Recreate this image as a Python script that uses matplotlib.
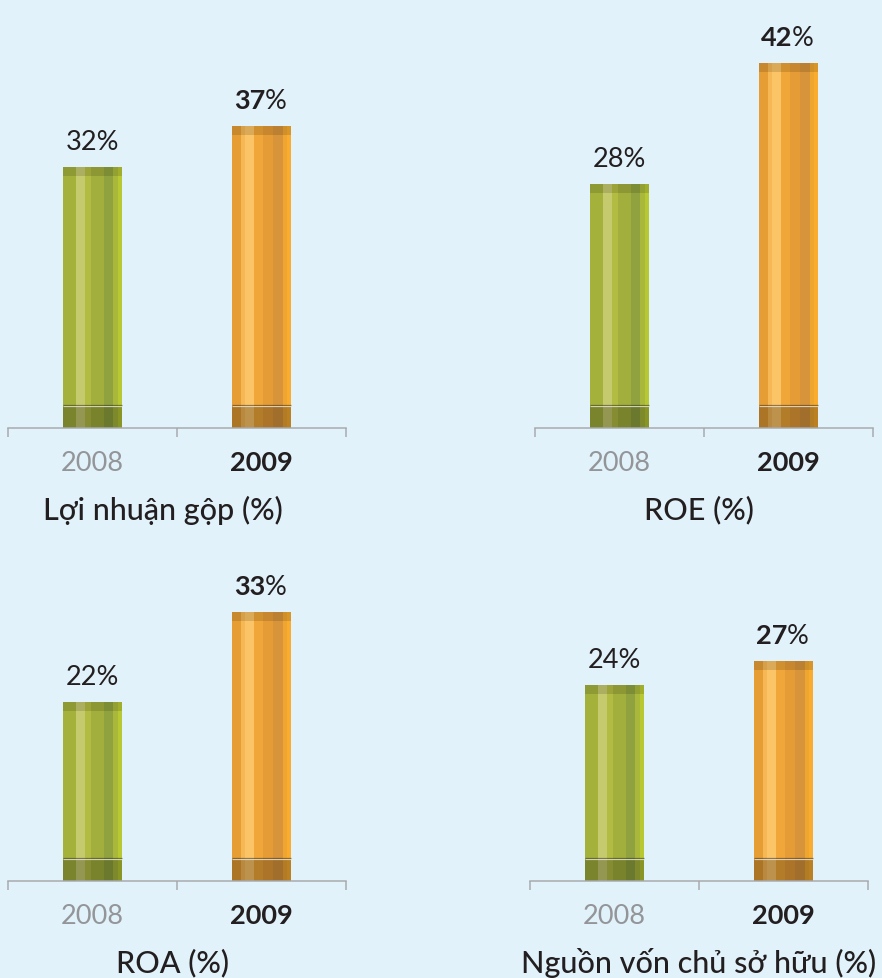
import matplotlib
matplotlib.use('Agg')
import matplotlib.pyplot as plt

# Données
years = ['2008', '2009']
titles = ['Lợi nhuận gộp (%)', 'ROE (%)', 'ROA (%)', 'Nguồn vốn chủ sở hữu (%)']
gross_margin = [32, 37]
roe = [28, 42]
roa = [22, 33]
equity_ratio = [24, 27]

series = [gross_margin, roe, roa, equity_ratio]

# Couleurs
bg = '#e1f2fa'
dark = '#231f20'
grey = '#939598'
axis_col = '#a7a9ac'

green_stripes = [(0.00, 0.23, '#a4b13b'), (0.23, 0.38, '#c6ca6e'), (0.38, 0.47, '#b3bc42'),
                 (0.47, 0.70, '#a2af3c'), (0.70, 0.85, '#8fa23f'), (0.85, 0.93, '#a9b83a'),
                 (0.93, 1.00, '#b8c832')]
orange_stripes = [(0.00, 0.15, '#e69d34'), (0.15, 0.23, '#f6b755'), (0.23, 0.38, '#fbc466'),
                  (0.38, 0.53, '#f0a638'), (0.53, 0.70, '#e69c36'), (0.70, 0.86, '#d8943a'),
                  (0.86, 0.93, '#eea631'), (0.93, 1.00, '#f9ac2e')]
stripes = [green_stripes, orange_stripes]

plt.rcParams['font.family'] = ['Lato', 'Noto Sans', 'DejaVu Sans']

W, H = 882, 979
fig = plt.figure(figsize=(W / 100, H / 100), dpi=100, facecolor=bg)

# boîtes des axes en pixels: gauche, haut, droite, bas ; échelle px par %
boxes = [(8, 20, 346, 429), (535, 20, 873, 429), (8, 474, 346, 882), (530, 474, 868, 882)]
scales = [8.15, 8.70, 8.15, 8.15]
title_dx = [-14, -5, -4, 0]  # décalage horizontal des titres (px)

bar_w = 0.355
px = 0.72  # 1 px en points

for vals, title, (l, t, r, b), sc, tdx in zip(series, titles, boxes, scales, title_dx):
    ax = fig.add_axes([l / W, 1 - b / H, (r - l) / W, (b - t) / H])
    ax.set_facecolor('none')
    ax.set_xlim(-0.5, 1.5)
    ax.set_ylim(0, (b - t) / sc)

    top_band = 9 / sc
    bot_band = 22 / sc

    for i, v in enumerate(vals):
        left = i - bar_w / 2
        for f0, f1, c in stripes[i]:
            ax.bar(left + f0 * bar_w, v, width=(f1 - f0) * bar_w, align='edge', color=c, linewidth=0)
        ax.bar(i, top_band, bottom=v - top_band, width=bar_w, color='black', alpha=0.13, linewidth=0)
        ax.bar(i, bot_band, width=bar_w, color='black', alpha=0.25, linewidth=0)
        ax.hlines(bot_band + 1.5 / sc, left, left + bar_w, color='black', alpha=0.45, lw=1.2 * px)
        ax.hlines(bot_band + 0.2 / sc, left, left + bar_w, color='#ece8d8', alpha=0.8, lw=1.2 * px)

        if i == 0:
            ax.annotate(f'{v}%', (i, v), xytext=(0, 18 * px), textcoords='offset points',
                        ha='center', va='baseline', fontsize=19.5, color=dark)
        else:
            ax.annotate(f'{v}', (i, v), xytext=(4 * px, 18 * px), textcoords='offset points',
                        ha='right', va='baseline', fontsize=19.5, color=dark, fontweight='bold')
            ax.annotate('%', (i, v), xytext=(3 * px, 18 * px), textcoords='offset points',
                        ha='left', va='baseline', fontsize=19.5, color=dark)

    # axe
    for s in ['top', 'left', 'right']:
        ax.spines[s].set_visible(False)
    ax.spines['bottom'].set_color(axis_col)
    ax.spines['bottom'].set_linewidth(1.5 * px)
    ax.set_yticks([])
    ax.set_xticks([-0.5, 0.5, 1.5])
    ax.set_xticklabels([])
    ax.tick_params(axis='x', which='major', length=9 * px, width=1.5 * px, color=axis_col, direction='out')
    ax.set_xticks([0, 1], minor=True)
    ax.set_xticklabels(years, minor=True)
    ax.tick_params(axis='x', which='minor', length=0, pad=15.5, labelsize=19.5)
    lbls = ax.get_xticklabels(minor=True)
    lbls[0].set_color(grey)
    lbls[1].set_color(dark)
    lbls[1].set_fontweight('bold')

    ax.annotate(title, (0.5, 0), xycoords='axes fraction', xytext=(tdx * px, -81 * px),
                textcoords='offset points', ha='center', va='center', fontsize=22,
                color=dark, fontweight='medium')

fig.savefig('out.png', dpi=100, facecolor=bg)
